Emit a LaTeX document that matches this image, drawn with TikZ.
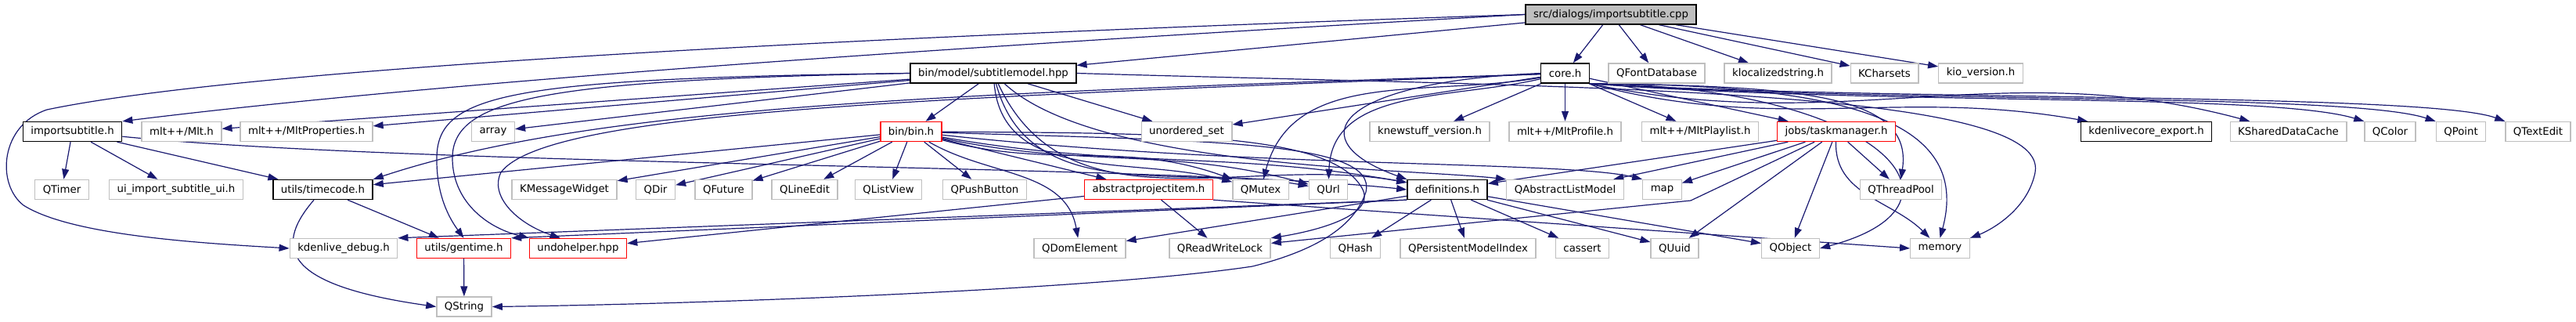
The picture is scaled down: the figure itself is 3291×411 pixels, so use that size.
\documentclass[tikz,border=0pt]{standalone}
\usepackage{fontspec}
\setmainfont{DejaVu Sans}
\usepackage{tikz}
\usetikzlibrary{arrows.meta}
\usepackage{xcolor}
\definecolor{edgeblue}{HTML}{191970}
\definecolor{boxgray}{HTML}{BFBFBF}
\pgfdeclarelayer{edges}
\pgfsetlayers{edges,main}

\begin{document}
\begin{tikzpicture}[x=1pt, y=1pt,
    file/.style={draw=boxgray, line width=1.4pt, fill=white, inner xsep=10pt, inner ysep=0pt,
                 minimum height=25pt, font=\fontsize{13.3}{16}\selectfont},
    local/.style={file, draw=black},
    trunc/.style={file, draw=red},
    self/.style={file, draw=black, fill=boxgray},
    dep/.style={edgeblue, line width=1.2pt, -{Triangle[length=13pt,width=9pt]}}]
    \useasboundingbox (0,0) rectangle (3291,-411);

    % The file itself
    \node[self] (cpp) at (2058,-18.5) {src/dialogs/importsubtitle.cpp};

    % Direct includes
    \node[local] (subtitlemodel) at (1269,-93.5)   {bin/model/subtitlemodel.hpp};
    \node[local] (core)          at (1999.5,-93.5) {core.h};
    \node[file]  (qfontdb)       at (2116.5,-93.5) {QFontDatabase};
    \node[file]  (klocal)        at (2271.5,-93.5) {klocalizedstring.h};
    \node[file]  (kcharsets)     at (2407.5,-93.5) {KCharsets};
    \node[file]  (kioversion)    at (2530.5,-93.5) {kio\_version.h};

    % Second level
    \node[local] (importsub)    at (92.5,-168)   {importsubtitle.h};
    \node[file]  (mlt)          at (232,-168)    {mlt++/Mlt.h};
    \node[file]  (mltprops)     at (391.5,-168)  {mlt++/MltProperties.h};
    \node[file]  (array)        at (630,-168)    {array};
    \node[trunc] (bin)          at (1164,-168)   {bin/bin.h};
    \node[file]  (unorderedset) at (1516,-168)   {unordered\_set};
    \node[file]  (knewstuff)    at (1826.5,-168) {knewstuff\_version.h};
    \node[file]  (mltprofile)   at (1999.5,-168) {mlt++/MltProfile.h};
    \node[file]  (mltplaylist)  at (2172,-168)   {mlt++/MltPlaylist.h};
    \node[trunc] (taskmanager)  at (2346,-168)   {jobs/taskmanager.h};
    \node[local] (coreexport)   at (2742,-168)   {kdenlivecore\_export.h};
    \node[file]  (kshared)      at (2923.5,-168) {KSharedDataCache};
    \node[file]  (qcolor)       at (3053.5,-168) {QColor};
    \node[file]  (qpoint)       at (3144,-168)   {QPoint};
    \node[file]  (qtextedit)    at (3242.5,-168) {QTextEdit};

    % Third level
    \node[file]  (qtimer)        at (79,-242)     {QTimer};
    \node[file]  (uiimport)      at (225,-242)    {ui\_import\_subtitle\_ui.h};
    \node[local] (timecode)      at (412.5,-242)  {utils/timecode.h};
    \node[file]  (kmsgwidget)    at (721,-242)    {KMessageWidget};
    \node[file]  (qdir)          at (837.5,-242)  {QDir};
    \node[file]  (qfuture)       at (924.5,-242)  {QFuture};
    \node[file]  (qlineedit)     at (1028,-242)   {QLineEdit};
    \node[file]  (qlistview)     at (1135,-242)   {QListView};
    \node[file]  (qpushbutton)   at (1258,-242)   {QPushButton};
    \node[trunc] (projitem)      at (1467.5,-242) {abstractprojectitem.h};
    \node[file]  (qmutex)        at (1610.5,-242) {QMutex};
    \node[file]  (qurl)          at (1697,-242)   {QUrl};
    \node[local] (definitions)   at (1849,-242)   {definitions.h};
    \node[file]  (qabslistmodel) at (1999.5,-242) {QAbstractListModel};
    \node[file]  (map)           at (2123.5,-242) {map};
    \node[file]  (qthreadpool)   at (2428.5,-242) {QThreadPool};

    % Fourth level
    \node[file]  (kdebug)      at (439,-317)    {kdenlive\_debug.h};
    \node[trunc] (gentime)     at (592.5,-317)  {utils/gentime.h};
    \node[trunc] (undohelper)  at (738.5,-317)  {undohelper.hpp};
    \node[file]  (qdomelement) at (1379.5,-317) {QDomElement};
    \node[file]  (qrwlock)     at (1558.5,-317) {QReadWriteLock};
    \node[file]  (qhash)       at (1731.5,-317) {QHash};
    \node[file]  (qpmi)        at (1875.5,-317) {QPersistentModelIndex};
    \node[file]  (cassert)     at (2021.5,-317) {cassert};
    \node[file]  (quuid)       at (2139.5,-317) {QUuid};
    \node[file]  (qobject)     at (2287.5,-317) {QObject};
    \node[file]  (memory)      at (2478.5,-317) {memory};

    \node[file]  (qstring)     at (593,-391.5)  {QString};

    \begin{pgfonlayer}{edges}
    % importsubtitle.cpp
    \draw[dep] (cpp) edge (subtitlemodel) edge (core) edge (qfontdb) edge (klocal) edge (kcharsets) edge (kioversion);
    \draw[dep] (cpp.west) .. controls (1300,-55) and (600,-100) .. (importsub.north east);
    \draw[dep] (cpp.west) .. controls (1000,-50) and (300,-90) .. (60,-140)
        .. controls (0,-160) and (-5,-235) .. (30,-262) .. controls (90,-300) and (250,-310) .. (kdebug.west);

    % importsubtitle.h
    \draw[dep] (importsub) edge (qtimer) edge (uiimport) edge (timecode);
    \draw[dep] (importsub) .. controls (550,-213) and (1500,-210) .. (definitions.west);

    % subtitlemodel.hpp
    \draw[dep] (subtitlemodel) edge (mlt) edge (mltprops) edge (array) edge (bin) edge (unorderedset);
    \draw[dep] (subtitlemodel.west) .. controls (650,-100) and (560,-120) .. (558,-200)
        .. controls (557,-250) and (575,-280) .. (gentime.north);
    \draw[dep] (subtitlemodel.west) .. controls (700,-102) and (580,-125) .. (578,-200)
        .. controls (577,-255) and (620,-290) .. (undohelper.north west);
    \draw[dep] (subtitlemodel) to[out=-85,in=165] (qmutex);
    \draw[dep] (subtitlemodel) to[out=-75,in=170] (qurl);
    \draw[dep] (subtitlemodel) to[out=-65,in=170] (definitions);
    \draw[dep] (subtitlemodel) .. controls (1400,-215) and (1800,-215) .. (qabslistmodel.north west);
    \draw[dep] (subtitlemodel.east) .. controls (2000,-112) and (2620,-110) .. (2600,-220)
        .. controls (2590,-270) and (2540,-295) .. (memory.north east);

    % core.h
    \draw[dep] (core) edge (knewstuff) edge (mltprofile) edge (mltplaylist) edge (taskmanager) edge (unorderedset);
    \draw[dep] (core.south east) to[out=-15,in=170] (coreexport);
    \draw[dep] (core.south east) to[out=-12,in=165] (kshared);
    \draw[dep] (core.south east) .. controls (2400,-135) and (2900,-118) .. (qcolor.north west);
    \draw[dep] (core.south east) .. controls (2400,-132) and (3000,-118) .. (qpoint.north west);
    \draw[dep] (core.south east) .. controls (2400,-129) and (3100,-118) .. (qtextedit.north west);
    \draw[dep] (core.south east) .. controls (2300,-110) and (2445,-120) .. (qthreadpool.north);
    \draw[dep] (core.south east) .. controls (2350,-108) and (2520,-150) .. (memory.north);
    \draw[dep] (core.south east) .. controls (2400,-110) and (2540,-260) .. (qobject.east);
    \draw[dep] (core) to[out=190,in=75] (qmutex);
    \draw[dep] (core) to[out=193,in=88] (qurl);
    \draw[dep] (core.west) .. controls (1700,-105) and (1660,-180) .. (definitions.north west);
    \draw[dep] (core) .. controls (1200,-120) and (760,-135) .. (timecode.north east);
    \draw[dep] (core) .. controls (1200,-125) and (700,-140) .. (640,-220)
        .. controls (625,-250) and (660,-285) .. (undohelper.150);

    % bin/bin.h
    \draw[dep] (bin) edge (kmsgwidget) edge (qdir) edge (qfuture) edge (qlineedit) edge (qlistview)
        edge (qpushbutton) edge (projitem) edge (timecode);
    \draw[dep] (bin) to[out=-15,in=160] (qmutex);
    \draw[dep] (bin) to[out=-12,in=165] (qurl);
    \draw[dep] (bin) to[out=-10,in=170] (definitions);
    \draw[dep] (bin) .. controls (1600,-215) and (2000,-205) .. (map.north west);
    \draw[dep] (bin) to[out=-30,in=100] (qdomelement);
    \draw[dep] (bin) .. controls (1500,-170) and (1700,-170) .. (1740,-240)
        .. controls (1760,-275) and (1680,-295) .. (qrwlock.north east);
    \draw[dep] (bin) .. controls (1550,-180) and (1760,-180) .. (1745,-245)
        .. controls (1730,-290) and (1680,-320) .. (1600,-340)
        .. controls (1400,-370) and (900,-388) .. (qstring.east);

    % abstractprojectitem.h
    \draw[dep] (projitem) edge (qrwlock) edge (undohelper);
    \draw[dep] (projitem.south east) -- (memory.west);

    % definitions.h
    \draw[dep] (definitions) edge (qhash) edge (qpmi) edge (cassert) edge (quuid) edge (qdomelement) edge (qobject);
    \draw[dep] (definitions.south west) -- (kdebug.north east);
    \draw[dep] (definitions.south west) -- (gentime.north east);

    % jobs/taskmanager.h
    \draw[dep] (taskmanager) edge (definitions) edge (qabslistmodel) edge (map) edge (quuid) edge (qobject) edge (qthreadpool);
    \draw[dep] (taskmanager) -- (2160,-256) -- (qrwlock);
    \draw[dep] (taskmanager) to[out=-92,in=135] (memory);

    % utils
    \draw[dep] (timecode) edge (gentime);
    \draw[dep] (timecode) .. controls (345,-320) and (370,-365) .. (qstring.west);
    \draw[dep] (gentime) edge (qstring);
    \end{pgfonlayer}
\end{tikzpicture}
\end{document}
